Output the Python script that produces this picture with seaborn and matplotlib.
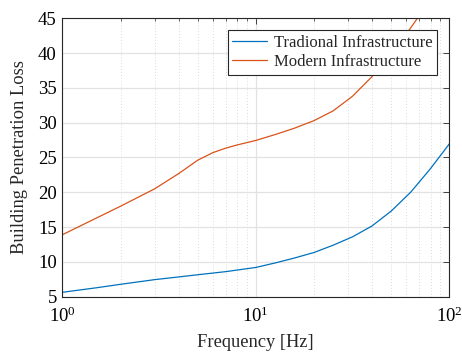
import numpy as np
import pandas as pd
import matplotlib
matplotlib.use("Agg")
import matplotlib.pyplot as plt
import seaborn as sns
from matplotlib.ticker import LogLocator, NullFormatter, FixedLocator

# Building penetration loss versus frequency for two construction types
freq_traditional = [1, 1.5, 2, 3, 4, 5, 7, 10, 12.6, 15.8, 20, 25.1, 31.6, 39.8, 50.1,
                    63.1, 79.4, 100]
loss_traditional = [5.63, 6.28, 6.78, 7.45, 7.84, 8.15, 8.6, 9.2, 9.85, 10.55, 11.35,
                    12.4, 13.6, 15.15, 17.3, 20.0, 23.3, 26.95]

freq_modern = [1, 2, 3, 4, 5, 6, 7, 8, 10, 12.6, 15.8, 20, 25.1, 31.6, 39.8, 50.1, 63.1,
               79.4]
loss_modern = [13.9, 18.0, 20.5, 22.7, 24.6, 25.7, 26.35, 26.8, 27.45, 28.3, 29.2, 30.3,
               31.7, 33.8, 36.6, 39.9, 43.6, 47.6]

series_names = ["Tradional Infrastructure", "Modern Infrastructure"]
series_colors = ["#0072BD", "#D95319"]

df = pd.concat([
    pd.DataFrame({"freq": freq_traditional, "loss": loss_traditional, "series": series_names[0]}),
    pd.DataFrame({"freq": freq_modern, "loss": loss_modern, "series": series_names[1]}),
], ignore_index=True)

sns.set_theme(style="white")
plt.rcParams["font.family"] = ["Liberation Serif", "DejaVu Serif"]
plt.rcParams["mathtext.fontset"] = "custom"
plt.rcParams["mathtext.rm"] = "Liberation Serif"
plt.rcParams["mathtext.it"] = "Liberation Serif:italic"
plt.rcParams["mathtext.bf"] = "Liberation Serif:bold"

fig = plt.figure(figsize=(4.62, 3.54), dpi=100)
ax = fig.add_axes([0.1349, 0.1619, 0.8376, 0.7864])

sns.lineplot(data=df, x="freq", y="loss", hue="series", hue_order=series_names,
             palette=series_colors, linewidth=0.9, ax=ax, sort=True, estimator=None)

ax.set_xscale("log")
ax.set_xlim(1, 100)
ax.set_ylim(5, 45)
ax.yaxis.set_major_locator(FixedLocator([5, 10, 15, 20, 25, 30, 35, 40, 45]))
ax.xaxis.set_minor_locator(LogLocator(base=10, subs=np.arange(2, 10), numticks=20))
ax.xaxis.set_minor_formatter(NullFormatter())

ax.grid(True, which="major", axis="both", color="#e2e2e2", linewidth=0.9, linestyle="-")
ax.grid(True, which="minor", axis="x", color="#cfcfcf", linewidth=0.6, linestyle=(0, (1, 2.5)))
ax.set_axisbelow(True)

for sp in ax.spines.values():
    sp.set_color("#262626")
    sp.set_linewidth(0.8)

ax.tick_params(axis="both", which="both", direction="in", top=True, right=True,
               colors="#262626", labelcolor="black", labelsize=13.5)
ax.tick_params(axis="both", which="major", length=4, width=0.6)
ax.tick_params(axis="x", which="major", pad=7)
ax.tick_params(axis="y", which="major", pad=4)
ax.tick_params(axis="x", which="minor", length=2.2, width=0.5)

ax.set_xlabel("Frequency [Hz]", fontsize=13.3, labelpad=6)
ax.set_ylabel("Building Penetration Loss", fontsize=13.3, labelpad=7)

handles, labels = ax.get_legend_handles_labels()
leg = ax.legend(handles, labels, loc="upper right", bbox_to_anchor=(0.969, 0.958),
                borderaxespad=0, fontsize=12, frameon=True, fancybox=False,
                framealpha=1, edgecolor="#262626", handlelength=2.1,
                handletextpad=0.4, labelspacing=0.2, borderpad=0.28)
leg.get_frame().set_linewidth(0.8)

fig.savefig("out.png", dpi=100)
